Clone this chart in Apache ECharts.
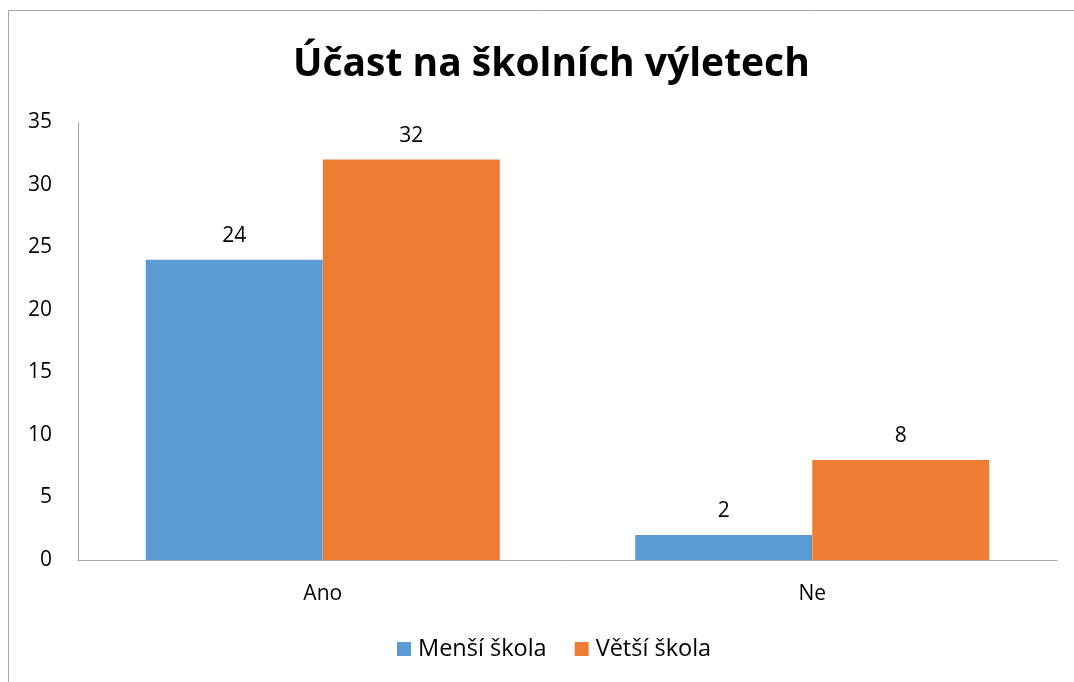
<!DOCTYPE html>
<html>
<head>
<meta charset="utf-8">
<script src="https://cdn.jsdelivr.net/npm/echarts@6/dist/echarts.min.js"></script>
<style>
  html, body { margin: 0; padding: 0; background: #fff; }
  #chart { width: 1074px; height: 682px; }
</style>
</head>
<body>
<div id="chart"></div>
<script>
// data
const categories = ['Ano', 'Ne'];
const mensiSkola = [24, 2];
const vetsiSkola = [32, 8];
const seriesNames = ['Menší škola', 'Větší škola'];

const font = '"Open Sans", "Noto Sans", sans-serif';

const myChart = echarts.init(document.getElementById('chart'));
myChart.setOption({
  backgroundColor: '#fff',
  animation: false,
  textStyle: { fontFamily: font },
  // chart frame (only left + top edges visible)
  graphic: [{
    type: 'rect',
    shape: { x: 8.5, y: 10.5, width: 1200, height: 800 },
    style: { fill: 'none', stroke: '#a6a6a6', lineWidth: 1 },
    silent: true,
  }],
  title: {
    text: 'Účast na školních výletech',
    left: 288,
    top: 40,
    textStyle: { fontSize: 39, fontWeight: 'bold', color: '#000', fontFamily: font },
  },
  legend: {
    data: seriesNames,
    bottom: 16,
    left: 392,
    icon: 'rect',
    itemWidth: 14,
    itemHeight: 14,
    itemGap: 28,
    textStyle: { fontSize: 23.5, color: '#000', fontFamily: font, padding: [0, 0, 0, 2] },
  },
  grid: { left: 78, right: 17, top: 122, bottom: 122 },
  xAxis: {
    type: 'category',
    data: categories,
    axisLine: { lineStyle: { color: '#a6a6a6', width: 1 } },
    axisTick: { show: false },
    axisLabel: { fontSize: 21, color: '#000', margin: 24 },
  },
  yAxis: {
    type: 'value',
    min: 0,
    max: 35,
    interval: 5,
    splitLine: { show: false },
    axisLine: { show: true, lineStyle: { color: '#a6a6a6', width: 1 } },
    axisTick: { show: false },
    axisLabel: { fontSize: 21, color: '#000', margin: 26 },
  },
  series: [
    {
      name: seriesNames[0],
      type: 'bar',
      data: mensiSkola,
      barWidth: 177,
      barGap: '0%',
      itemStyle: { color: '#5B9BD5' },
      label: { show: true, position: 'top', distance: 13, fontSize: 21, color: '#000' },
    },
    {
      name: seriesNames[1],
      type: 'bar',
      data: vetsiSkola,
      barWidth: 177,
      barGap: '0%',
      itemStyle: { color: '#ED7D31' },
      label: { show: true, position: 'top', distance: 13, fontSize: 21, color: '#000' },
    },
  ],
});
</script>
</body>
</html>
